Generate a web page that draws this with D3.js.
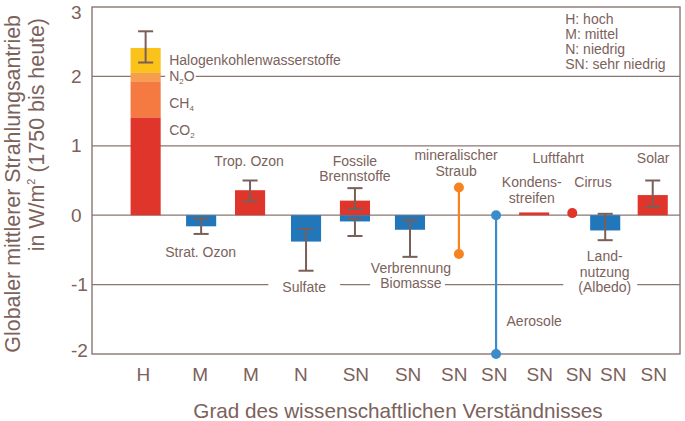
<!DOCTYPE html>
<html>
<head>
<meta charset="utf-8">
<script src="https://cdn.jsdelivr.net/npm/d3@7"></script>
<style>
  body { margin: 0; background: #fff; }
  svg text { font-family: "Liberation Sans", Arial, sans-serif; fill: #7b625b; }
</style>
</head>
<body>
<div id="chart"></div>
<script>
// categories along the x axis and their level of scientific understanding
var categories = ["Treibhausgase", "Strat. Ozon", "Trop. Ozon", "Sulfate", "Fossile Brennstoffe",
  "Verbrennung Biomasse", "mineralischer Straub", "Aerosole", "Kondensstreifen", "Cirrus",
  "Landnutzung", "Solar"];
var understanding = ["H", "M", "M", "N", "SN", "SN", "SN", "SN", "SN", "SN", "SN", "SN"];
var slot = [1.14, 2.32, 3.36, 4.55, 5.59, 6.76, 7.80, 8.59, 9.40, 10.21, 10.91, 11.92];
var levelSlot = [1.09, 2.30, 3.38, 4.44, 5.61, 6.72, 7.70, 8.55, 9.52, 10.35, 11.08, 11.94];

// well mixed greenhouse gases (stacked)
var ghgParts = ["CO2", "CH4", "N2O", "Halogenkohlenwasserstoffe"];
var ghgValues = [1.41, 0.52, 0.12, 0.36];
var ghgColors = ["#e0352a", "#f47a42", "#f79d50", "#fbc21c"];

// single bars (category index, value)
var barIndex = [1, 2, 3, 4, 4, 5, 8, 10, 11];
var barValue = [-0.16, 0.36, -0.38, 0.21, -0.09, -0.21, 0.04, -0.22, 0.29];

// uncertainty bars
var errIndex = [0, 1, 2, 3, 4, 4, 5, 10, 11];
var errLow = [2.20, -0.27, 0.20, -0.80, 0.09, -0.30, -0.60, -0.36, 0.12];
var errHigh = [2.65, -0.05, 0.50, -0.20, 0.39, -0.05, -0.07, 0.02, 0.50];

// ranges without best estimate
var rangeIndex = [6, 7];
var rangeLow = [-0.56, -2.0];
var rangeHigh = [0.40, 0.0];
var rangeColors = ["#f58420", "#3a8ccb"];

// single point estimate (Cirrus)
var dotIndex = [9];
var dotValue = [0.03];

var yTicks = [3, 2, 1, 0, -1, -2];
var gridValues = [2, 1, 0, -1];
var legendLines = ["H: hoch", "M: mittel", "N: niedrig", "SN: sehr niedrig"];

// annotation texts in data units (slot, value of first baseline)
var labels = [
  {lines: ["Halogenkohlenwasserstoffe"], s: 1.64, v: 2.17, anchor: "start"},
  {lines: ["N|2|O"], s: 1.64, v: 1.93, anchor: "start", gap: 2, padL: 4, padR: 1},
  {lines: ["CH|4|"], s: 1.64, v: 1.545, anchor: "start"},
  {lines: ["CO|2|"], s: 1.64, v: 1.156, anchor: "start"},
  {lines: ["Trop. Ozon"], s: 3.34, v: 0.71, anchor: "middle"},
  {lines: ["Strat. Ozon"], s: 2.31, v: -0.60, anchor: "middle"},
  {lines: ["Sulfate"], s: 4.51, v: -1.10, anchor: "middle", gap: -1, padL: 14, padR: 14},
  {lines: ["Fossile", "Brennstoffe"], s: 5.59, v: 0.71, anchor: "middle"},
  {lines: ["Verbrennung", "Biomasse"], s: 6.78, v: -0.83, anchor: "middle", gap: -1, padL: 10, padR: 3},
  {lines: ["mineralischer", "Straub"], s: 7.74, v: 0.79, anchor: "middle"},
  {lines: ["Luftfahrt"], s: 9.91, v: 0.75, anchor: "middle"},
  {lines: ["Kondens-", "streifen"], s: 9.35, v: 0.40, anchor: "middle"},
  {lines: ["Cirrus"], s: 10.65, v: 0.40, anchor: "middle"},
  {lines: ["Solar"], s: 11.93, v: 0.75, anchor: "middle"},
  {lines: ["Land-", "nutzung", "(Albedo)"], s: 10.9, v: -0.667, anchor: "middle", gap: -1, padL: 15, padR: 6},
  {lines: ["Aerosole"], s: 9.40, v: -1.60, anchor: "middle"}
];

var width = 685, height = 421;
var lineColor = "#8a7671", errColor = "#7a5f58";
var warm = "#e0352a", cool = "#2277bb";

var x = d3.scaleLinear().domain([0, 12.5]).range([92, 680]);
var y = d3.scaleLinear().domain([-2, 3]).range([354, 7]);
var barW = x(0.64) - x(0);
var capW = x(0.32) - x(0);

var svg = d3.select("#chart").append("svg")
  .attr("width", width)
  .attr("height", height);

// grid lines
svg.selectAll(".grid")
  .data(gridValues)
  .enter()
  .append("line")
  .attr("x1", x(0)).attr("x2", x(12.5))
  .attr("y1", function(d) { return y(d); })
  .attr("y2", function(d) { return y(d); })
  .attr("stroke", lineColor)
  .attr("stroke-width", 1.2);

// frame
svg.append("rect")
  .attr("x", x(0)).attr("y", y(3))
  .attr("width", x(12.5) - x(0))
  .attr("height", y(-2) - y(3))
  .attr("fill", "none")
  .attr("stroke", lineColor)
  .attr("stroke-width", 1.4);

var gapLayer = svg.append("g");

// stacked greenhouse gases
var cum = 0;
var stack = ghgValues.map(function(v, i) {
  var seg = {low: cum, high: cum + v, color: ghgColors[i]};
  cum += v;
  return seg;
});
svg.selectAll(".ghg")
  .data(stack)
  .enter()
  .append("rect")
  .attr("x", x(slot[0]) - barW / 2)
  .attr("width", barW)
  .attr("y", function(d) { return y(d.high); })
  .attr("height", function(d) { return y(d.low) - y(d.high); })
  .attr("fill", function(d) { return d.color; });

// other bars
svg.selectAll(".bar")
  .data(barValue)
  .enter()
  .append("rect")
  .attr("x", function(d, i) { return x(slot[barIndex[i]]) - barW / 2; })
  .attr("width", barW)
  .attr("y", function(d) { return y(Math.max(0, d)); })
  .attr("height", function(d) { return Math.abs(y(d) - y(0)); })
  .attr("fill", function(d) { return d > 0 ? warm : cool; });

// ranges with end points
rangeIndex.forEach(function(c, i) {
  var cx = x(slot[c]);
  svg.append("line")
    .attr("x1", cx).attr("x2", cx)
    .attr("y1", y(rangeLow[i])).attr("y2", y(rangeHigh[i]))
    .attr("stroke", rangeColors[i])
    .attr("stroke-width", 2.2);
  [rangeLow[i], rangeHigh[i]].forEach(function(v) {
    svg.append("circle")
      .attr("cx", cx).attr("cy", y(v)).attr("r", 5)
      .attr("fill", rangeColors[i]);
  });
});

svg.selectAll(".dot")
  .data(dotValue)
  .enter()
  .append("circle")
  .attr("cx", function(d, i) { return x(slot[dotIndex[i]]); })
  .attr("cy", function(d) { return y(d); })
  .attr("r", 5)
  .attr("fill", warm);

// uncertainty bars
var err = svg.selectAll(".err")
  .data(errIndex)
  .enter()
  .append("g")
  .attr("stroke", errColor)
  .attr("stroke-width", 2);
err.append("line")
  .attr("x1", function(d) { return x(slot[d]); })
  .attr("x2", function(d) { return x(slot[d]); })
  .attr("y1", function(d, i) { return y(errLow[i]); })
  .attr("y2", function(d, i) { return y(errHigh[i]); });
[errLow, errHigh].forEach(function(arr) {
  err.append("line")
    .attr("x1", function(d) { return x(slot[d]) - capW / 2; })
    .attr("x2", function(d) { return x(slot[d]) + capW / 2; })
    .attr("y1", function(d, i) { return y(arr[i]); })
    .attr("y2", function(d, i) { return y(arr[i]); });
});

// annotations
var lineH = 15.5;
labels.forEach(function(l) {
  var g = svg.append("g");
  l.lines.forEach(function(txt, k) {
    var t = g.append("text")
      .attr("x", x(l.s))
      .attr("y", y(l.v) + k * lineH)
      .attr("text-anchor", l.anchor)
      .style("font-size", "14px");
    txt.split("|").forEach(function(part, j) {
      if (part === "") return;
      if (j % 2 === 1) {
        t.append("tspan").attr("dy", 3).style("font-size", "8px").text(part);
      } else {
        t.append("tspan").attr("dy", j > 0 ? -3 : 0).text(part);
      }
    });
    if (l.gap !== undefined && k === l.lines.length - 1) {
      var bb = t.node().getBBox();
      gapLayer.append("rect")
        .attr("x", bb.x - l.padL)
        .attr("width", bb.width + l.padL + l.padR)
        .attr("y", y(l.gap === 2 ? 2 : -1) - 2)
        .attr("height", 4)
        .attr("fill", "#fff");
    }
  });
});

// legend
svg.selectAll(".legend")
  .data(legendLines)
  .enter()
  .append("text")
  .attr("x", x(10.06))
  .attr("y", function(d, i) { return y(2.75) + i * 15; })
  .style("font-size", "14px")
  .text(function(d) { return d; });

// y tick labels
svg.selectAll(".ytick")
  .data(yTicks)
  .enter()
  .append("text")
  .attr("x", 71)
  .attr("y", function(d) { return Math.min(350, Math.max(12, y(d))); })
  .attr("dy", "0.35em")
  .style("font-size", "19px")
  .text(function(d) { return d; });

// level of understanding labels
svg.selectAll(".level")
  .data(understanding)
  .enter()
  .append("text")
  .attr("x", function(d, i) { return x(levelSlot[i]); })
  .attr("y", 381)
  .attr("text-anchor", "middle")
  .style("font-size", "19px")
  .text(function(d) { return d; });

// axis titles
svg.append("text")
  .attr("x", 398).attr("y", 418)
  .attr("text-anchor", "middle")
  .style("font-size", "20.7px")
  .text("Grad des wissenschaftlichen Verständnisses");

svg.append("text")
  .attr("transform", "translate(20,15) rotate(-90)")
  .attr("text-anchor", "end")
  .style("font-size", "21.4px")
  .text("Globaler mittlerer Strahlungsantrieb");

var t2 = svg.append("text")
  .attr("transform", "translate(44,18) rotate(-90)")
  .attr("text-anchor", "end")
  .style("font-size", "21.4px");
t2.append("tspan").text("in W/m");
t2.append("tspan").attr("dy", -9).style("font-size", "11px").text("2");
t2.append("tspan").attr("dy", 9).text(" (1750 bis heute)");
</script>
</body>
</html>
